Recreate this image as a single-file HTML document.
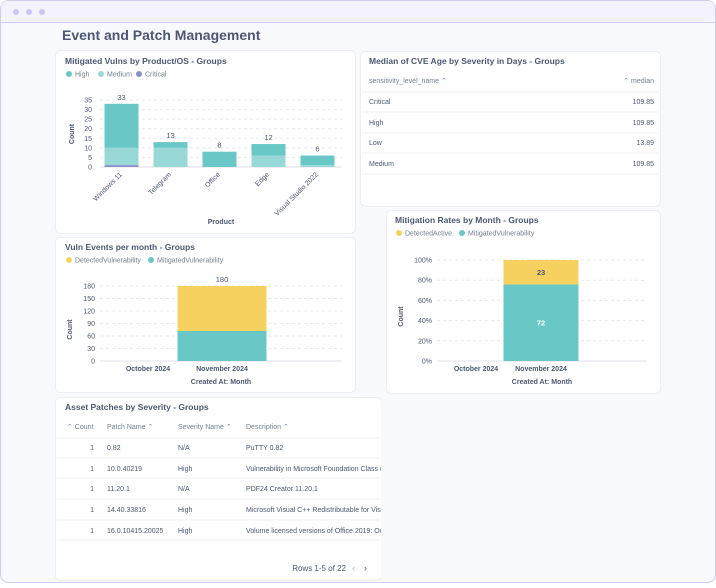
<!DOCTYPE html>
<html><head><meta charset="utf-8"><style>
body{margin:0;width:716px;height:583px;overflow:hidden;background:#fff;font-family:"Liberation Sans",sans-serif}
svg text{font-family:"Liberation Sans",sans-serif}
</style></head><body>
<svg id="s" width="716" height="583" viewBox="0 0 716 583">
<rect x="0.5" y="0.5" width="715" height="582" rx="8" fill="#f8f9fc" stroke="#cfcdf5"/>
<path d="M0.5 22.5 H715.5" stroke="#cfcdf5"/>
<rect x="1" y="1" width="714" height="21" rx="7" fill="#f4f3fd"/>
<circle cx="16" cy="12" r="3" fill="#c9c6f2"/>
<circle cx="29" cy="12" r="3" fill="#c9c6f2"/>
<circle cx="42" cy="12" r="3" fill="#c9c6f2"/>
<text x="62" y="40" font-size="14" font-weight="bold" fill="#4c5773">Event and Patch Management</text>

<g fill="#fff" stroke="#eceef3">
<rect x="55.5" y="50.5" width="300" height="183" rx="5"/>
<rect x="360.5" y="51.5" width="300" height="155" rx="5"/>
<rect x="386.5" y="210.5" width="274" height="183" rx="5"/>
<rect x="55.5" y="237.5" width="300" height="155" rx="5"/>
<rect x="55.5" y="397.5" width="326" height="183" rx="5"/>
</g>
<g font-size="8.5" font-weight="bold" fill="#4c5773">
<text x="65" y="64">Mitigated Vulns by Product/OS - Groups</text>
<text x="369" y="64">Median of CVE Age by Severity in Days - Groups</text>
<text x="395" y="223">Mitigation Rates by Month - Groups</text>
<text x="65" y="250">Vuln Events per month - Groups</text>
<text x="65" y="410">Asset Patches by Severity - Groups</text>
</g>
<g font-size="7" fill="#74808f">
<circle cx="69" cy="74" r="3" fill="#69c8c6"/><text x="75" y="76.5">High</text>
<circle cx="101" cy="74" r="3" fill="#98d9d7"/><text x="107" y="76.5">Medium</text>
<circle cx="139" cy="74" r="3" fill="#8b8fc7"/><text x="145" y="76.5">Critical</text>
<circle cx="69" cy="260" r="3" fill="#f7d15f"/><text x="75" y="262.5">DetectedVulnerability</text>
<circle cx="151" cy="260" r="3" fill="#69c8c6"/><text x="157" y="262.5">MitigatedVulnerability</text>
<circle cx="399" cy="233" r="3" fill="#f7d15f"/><text x="405" y="235.5">DetectedActive</text>
<circle cx="462" cy="233" r="3" fill="#69c8c6"/><text x="468" y="235.5">MitigatedVulnerability</text>
</g>
<g id="c1"></g><g id="c2"></g><g id="c3"></g>

<g font-size="7" fill="#4c5773">
<text x="369" y="83" fill="#74808f">sensitivity_level_name ⌃</text>
<text x="654" y="83" fill="#74808f" text-anchor="end">⌃ median</text>
<path d="M362 92H658M362 112H658M362 133H658M362 153H658M362 174H658" stroke="#f0f0f4"/>
<text x="369" y="104">Critical</text><text x="654" y="104" text-anchor="end">109.85</text>
<text x="369" y="125">High</text><text x="654" y="125" text-anchor="end">109.85</text>
<text x="369" y="145">Low</text><text x="654" y="145" text-anchor="end">13.89</text>
<text x="369" y="166">Medium</text><text x="654" y="166" text-anchor="end">109.85</text>
</g>
<g font-size="7" fill="#4c5773">
<text x="67" y="429" fill="#74808f">⌃ Count</text>
<text x="107" y="429" fill="#74808f">Patch Name ⌃</text>
<text x="178" y="429" fill="#74808f">Severity Name ⌃</text>
<text x="246" y="429" fill="#74808f">Description ⌃</text>
<path d="M57 438H380M57 458H380M57 478H380M57 499H380M57 520H380M57 540H380" stroke="#f0f0f4"/>
<g>
<text x="94" y="450" text-anchor="end">1</text><text x="107" y="450">0.82</text><text x="178" y="450">N/A</text><text x="246" y="450">PuTTY 0.82</text>
<text x="94" y="471" text-anchor="end">1</text><text x="107" y="471">10.0.40219</text><text x="178" y="471">High</text><text x="246" y="471">Vulnerability in Microsoft Foundation Class (</text>
<text x="94" y="491" text-anchor="end">1</text><text x="107" y="491">11.20.1</text><text x="178" y="491">N/A</text><text x="246" y="491">PDF24 Creator 11.20.1</text>
<text x="94" y="512" text-anchor="end">1</text><text x="107" y="512">14.40.33816</text><text x="178" y="512">High</text><text x="246" y="512">Microsoft Visual C++ Redistributable for Vis</text>
<text x="94" y="533" text-anchor="end">1</text><text x="107" y="533">16.0.10415.20025</text><text x="178" y="533">High</text><text x="246" y="533">Volume licensed versions of Office 2019: Oc</text>
</g>
<text x="346" y="571" font-size="8" text-anchor="end">Rows 1-5 of 22</text>
<text x="352" y="571" font-size="9" fill="#b0b6c2">‹</text>
<text x="364" y="571" font-size="9">›</text>
</g>
<rect x="381" y="395" width="3" height="186" fill="#f8f9fc"/>
</svg>
<script>
const NS="http://www.w3.org/2000/svg";
function mk(p,tag,a,t){const e=document.createElementNS(NS,tag);for(const k in a)e.setAttribute(k,a[k]);if(t!=null)e.textContent=t;p.appendChild(e);return e;}

const products=["Windows 11","Telegram","Office","Edge","Visual Studio 2022"];
const highVals=[23,3,8,6,5];
const mediumVals=[9,10,0,6,1];
const criticalVals=[1,0,0,0,0];
const ticks1=[0,5,10,15,20,25,30,35];

const months=["October 2024","November 2024"];
const detectedVals=[0,108];
const mitigatedVals=[0,72];
const ticks2=[0,30,60,90,120,150,180];

const detActiveVals=[0,23];
const mitVulnVals=[0,72];
const ticks3=[0,20,40,60,80,100];

(function(){
 const g=document.getElementById('c1');
 const x0=97,x1=342,yb=167,yt=100;
 const y=v=>yb-(v/35)*(yb-yt);
 const bw=(x1-x0)/products.length;
 const xc=i=>x0+bw*(i+0.5);
 ticks1.forEach(t=>{
  const l=mk(g,'line',{x1:100,x2:x1,y1:y(t),y2:y(t),stroke:t?'#e6e8ee':'#e0e2e8','stroke-dasharray':t?'3,3':''});
  
  
  const tx=mk(g,'text',{x:92,y:y(t)+2.5,'font-size':7,fill:'#4c5773','text-anchor':'end'},t);
  
  
 });
 const yl=mk(g,'text',{x:0,y:0,'font-size':7,'font-weight':'bold',fill:'#4c5773','text-anchor':'middle',transform:'translate(74,134) rotate(-90)'},'Count');
 
 
 const xl=mk(g,'text',{x:221,y:224,'font-size':7,'font-weight':'bold',fill:'#4c5773','text-anchor':'middle'},'Product');
 
 
 products.forEach((p,i)=>{
  const w=34,bx=xc(i)-w/2;let base=0;
  [[criticalVals[i],'#8b8fc7'],[mediumVals[i],'#98d9d7'],[highVals[i],'#69c8c6']].forEach(([v,c])=>{
   if(!v)return;
   const r=mk(g,'rect',{x:bx,y:y(base+v),width:w,height:y(base)-y(base+v),fill:c});
   
   
   base+=v;
  });
  const vt=mk(g,'text',{x:xc(i),y:y(base)-4,'font-size':7.5,fill:'#4c5773','text-anchor':'middle'},base);
  
  
  const lt=mk(g,'text',{x:0,y:0,'font-size':7,fill:'#4c5773','text-anchor':'end',transform:`translate(${xc(i)+1},${yb+8}) rotate(-45)`},p);
  
  
 });
})();

function monthChart(id,gx0,gx1,x0,bw,yb,yt,max,ticks,fmt,botVals,topVals,pct,ylx,w){
 const g=document.getElementById(id);
 const y=v=>yb-(v/max)*(yb-yt);
 const xc=i=>x0+bw*(i+0.5);
 ticks.forEach(t=>{
  const l=mk(g,'line',{x1:gx0,x2:gx1,y1:y(t),y2:y(t),stroke:t?'#e6e8ee':'#e0e2e8','stroke-dasharray':t?'3,3':''});
  
  
  const tx=mk(g,'text',{x:gx0-5,y:y(t)+2.5,'font-size':7,fill:'#4c5773','text-anchor':'end'},fmt(t));
  
  
 });
 const yl=mk(g,'text',{x:0,y:0,'font-size':7,'font-weight':'bold',fill:'#4c5773','text-anchor':'middle',transform:`translate(${ylx},${(yb+yt)/2+6}) rotate(-90)`},'Count');
 
 
 const xl=mk(g,'text',{x:(gx0+gx1)/2,y:yb+23,'font-size':7,'font-weight':'bold',fill:'#4c5773','text-anchor':'middle'},'Created At: Month');
 
 
 months.forEach((m,i)=>{
  const cx=xc(i);
  const lt=mk(g,'text',{x:cx,y:yb+10,'font-size':7,'font-weight':'bold',fill:'#4c5773','text-anchor':'middle'},m);
  
  
  const tot=botVals[i]+topVals[i];if(!tot)return;
  const bv=pct?botVals[i]/tot*100:botVals[i], tv=pct?100:tot;
  const r1=mk(g,'rect',{x:cx-w/2,y:y(bv),width:w,height:yb-y(bv),fill:'#69c8c6'});
  
  
  const r2=mk(g,'rect',{x:cx-w/2,y:y(tv),width:w,height:y(bv)-y(tv),fill:'#f7d15f'});
  
  
  if(pct){
   const a=mk(g,'text',{x:cx,y:(y(bv)+y(tv))/2+3,'font-size':7.5,'font-weight':'bold',fill:'#4c5773','text-anchor':'middle'},topVals[i]);
   
   
   const b=mk(g,'text',{x:cx,y:(yb+y(bv))/2+3,'font-size':7.5,'font-weight':'bold',fill:'#fff','text-anchor':'middle'},botVals[i]);
   
   
  } else {
   const a=mk(g,'text',{x:cx,y:y(tot)-4,'font-size':7.5,fill:'#4c5773','text-anchor':'middle'},tot);
   
   
  }
 });
}
monthChart('c2',100,342,111,74,361,286,180,ticks2,t=>t,mitigatedVals,detectedVals,false,72,89);
monthChart('c3',437,647,443.5,65,361,260,100,ticks3,t=>t+'%',mitVulnVals,detActiveVals,true,403,75);
</script>
</body></html>
